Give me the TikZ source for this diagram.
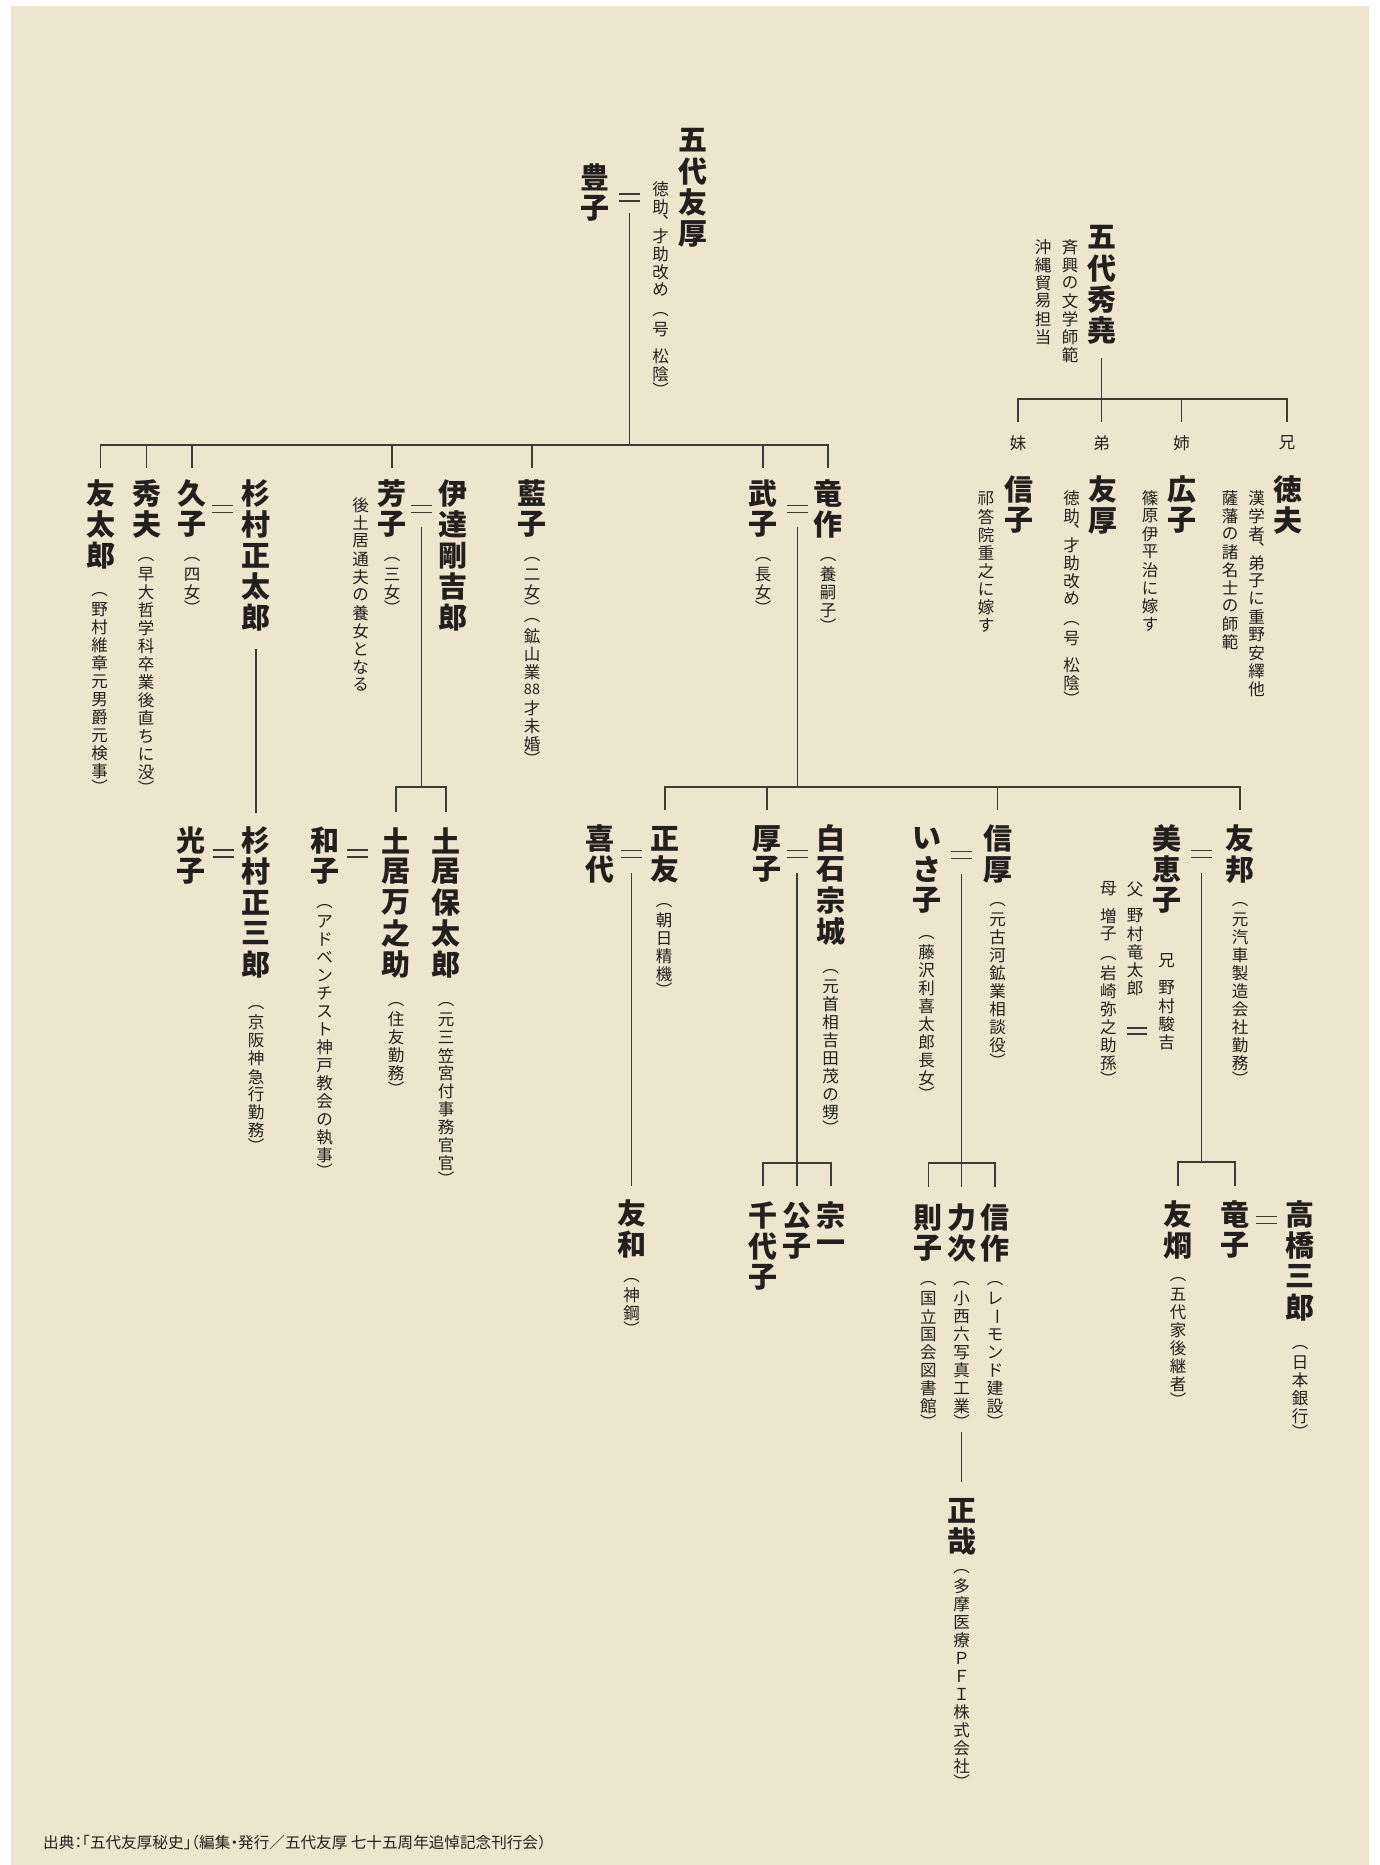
\documentclass[tikz,border=0pt]{standalone}
\usepackage{fontspec}
\usepackage{graphicx}
\usetikzlibrary{calc}
\newfontfamily\cjk{Noto Sans CJK JP}
\newfontfamily\cjkh{Noto Sans CJK JP}[RawFeature={+halt}]
\definecolor{bg}{HTML}{EEE5CE}
\definecolor{ink}{HTML}{231F1C}
\definecolor{rule}{HTML}{3E3A36}
\ExplSyntaxOn
\dim_new:N \l__vt_p_dim
\cs_new_protected:Npn \__vt_cell:nn #1#2
  {
    \vbox_to_ht:nn { #1 \l__vt_p_dim }
      { \vss \hbox_to_wd:nn { \l__vt_p_dim } { \hss #2 \hss } \vss }
  }
\cs_new_protected:Npn \vLP {}
\cs_new_protected:Npn \vRP {}
\cs_new_protected:Npn \vSP {}
\cs_new_protected:Npn \vTC {}
\cs_new_protected:Npn \vCB {}
\NewDocumentCommand \vt { O{18pt} m }
  {
    \vbox:n
      {
        \dim_set:Nn \l__vt_p_dim {#1}
        \offinterlineskip
        \tl_map_inline:nn {#2}
          {
            \str_case:nnF {##1}
              {
                { \vLP } { \__vt_cell:nn {0.7} { ︵ } }
                { \vRP } { \__vt_cell:nn {0.7} { ︶ } }
                { \vSP } { \__vt_cell:nn {0.5} { } }
                { \vTC } { \__vt_cell:nn {0.6} { ︑ } }
                { \vCB } { \__vt_cell:nn {1} { \rotatebox{-90}{ ー } } }
              }
              { \__vt_cell:nn {1} {##1} }
          }
      }
  }
\ExplSyntaxOff
\newcommand\VN[1]{\vt[31pt]{#1}}
\newcommand\VT[1]{\vt[18pt]{#1}}
\tikzset{
  nm/.style={anchor=north, inner sep=0pt, outer sep=0pt, text=ink, font=\cjk\bfseries\fontsize{29pt}{29pt}\selectfont},
  nt/.style={anchor=north, inner sep=0pt, outer sep=0pt, text=ink, font=\cjk\fontsize{16.5pt}{16.5pt}\selectfont},
  ln/.style={draw=rule, line width=1.3pt},
  eqs/.style={inner sep=0pt, outer sep=0pt, minimum width=21pt, minimum height=7pt,
    append after command={(\tikzlastnode.north west) edge[ln] (\tikzlastnode.north east)
      (\tikzlastnode.south west) edge[ln] (\tikzlastnode.south east)}},
}
\begin{document}
\begin{tikzpicture}[x=1pt,y=-1pt]
\useasboundingbox (0,0) rectangle (1379,1865);
\fill[white] (0,0) rectangle (1379,1865);
\fill[bg] (11,6) rectangle (1369,1865);

% ---- Godai Tomoatsu
\node[nm] (godai) at (692.7,125) {\VN{五代友厚}};
\node[nt] (godaiN) at (660.7,180) {\VT{徳助\vTC 才助改め\vSP \vLP 号\vSP 松陰\vRP }};
\node[nm] (toyoko) at (595,162) {\VN{豊子}};
\node[eqs] (eq1) at (629.3,197.5) {};

% ---- row 1
\node[nm] (yutaro) at (100.5,478) {\VN{友太郎}};
\node[nt] (yutaroN) at (99.5,588) {\VT{\vLP 野村維章元男爵元検事\vRP }};
\node[nm] (hideo) at (146.5,478) {\VN{秀夫}};
\node[nt] (hideoN) at (146,553) {\VT{\vLP 早大哲学科卒業後直ちに没\vRP }};
\node[nm] (hisako) at (192,478) {\VN{久子}};
\node[nt] (hisakoN) at (192,553) {\VT{\vLP 四女\vRP }};
\node[eqs] (eq2) at (222,509) {};
\node[nm] (shotaro) at (256,478) {\VN{杉村正太郎}};
\node[nt] (yoshikoN2) at (360.5,496) {\VT{後土居通夫の養女となる}};
\node[nm] (yoshiko) at (392,478) {\VN{芳子}};
\node[nt] (yoshikoN) at (392,553) {\VT{\vLP 三女\vRP }};
\node[eqs] (eq3) at (421.5,509) {};
\node[nm] (date) at (453,478) {\VN{伊達剛吉郎}};
\node[nm] (aiko) at (532,478) {\VN{藍子}};
\node[nt] (aikoN) at (532,553) {\VT{\vLP 二女\vRP \vLP 鉱山業{\fontsize{14.5pt}{14.5pt}\selectfont 88}才未婚\vRP }};
\node[nm] (takeko) at (763,478) {\VN{武子}};
\node[nt] (takekoN) at (763,553) {\VT{\vLP 長女\vRP }};
\node[eqs] (eq4) at (797.7,509) {};
\node[nm] (ryusaku) at (828,478) {\VN{竜作}};
\node[nt] (ryusakuN) at (828,553) {\VT{\vLP 養嗣子\vRP }};

% ---- row 2 left
\node[nm] (mitsuko) at (191,825) {\VN{光子}};
\node[eqs] (eq9) at (223,853.5) {};
\node[nm] (shozaburo) at (256,825) {\VN{杉村正三郎}};
\node[nt] (shozaburoN) at (256,1001) {\VT{\vLP 京阪神急行勤務\vRP }};
\node[nm] (kazuko) at (324.5,825) {\VN{和子}};
\node[nt] (kazukoN) at (324.5,900) {\VT{\vLP アドベンチスト神戸教会の執事\vRP }};
\node[eqs] (eq10) at (357.7,853.5) {};
\node[nm] (doiman) at (396,825) {\VN{土居万之助}};
\node[nt] (doimanN) at (396,998) {\VT{\vLP 住友勤務\vRP }};
\node[nm] (doiyasu) at (446,825) {\VN{土居保太郎}};
\node[nt] (doiyasuN) at (446,998) {\VT{\vLP 元三笠宮付事務官官\vRP }};

% ---- row 2 middle
\node[nm] (kiyo) at (600.3,823) {\VN{喜代}};
\node[eqs] (eq5) at (631.7,854) {};
\node[nm] (masatomo) at (665,823) {\VN{正友}};
\node[nt] (masatomoN) at (664,899) {\VT{\vLP 朝日精機\vRP }};
\node[nm] (tomokazu) at (631.7,1198) {\VN{友和}};
\node[nt] (tomokazuN) at (631.7,1274) {\VT{\vLP 神鋼\vRP }};
\node[nm] (atsuko) at (767,823) {\VN{厚子}};
\node[eqs] (eq6) at (797,854) {};
\node[nm] (shiraishi) at (831,823) {\VN{白石宗城}};
\node[nt] (shiraishiN) at (830.5,965) {\VT{\vLP 元首相吉田茂の甥\vRP }};
\node[nm] (chiyoko) at (763,1200) {\VN{千代子}};
\node[nm] (kimiko) at (797,1200) {\VN{公子}};
\node[nm] (soichi) at (831,1200) {\VN{宗一}};

% ---- row 2 right-middle
\node[nm] (isako) at (926.7,823) {\VN{いさ子}};
\node[nt] (isakoN) at (926.7,931) {\VT{\vLP 藤沢利喜太郎長女\vRP }};
\node[eqs] (eq7) at (961.7,855) {};
\node[nm] (nobuatsu) at (997.7,823) {\VN{信厚}};
\node[nt] (nobuatsuN) at (997.7,898) {\VT{\vLP 元古河鉱業相談役\vRP }};
\node[nm] (noriko) at (928.3,1202) {\VN{則子}};
\node[nt] (norikoN) at (928.3,1277) {\VT{\vLP 国立国会図書館\vRP }};
\node[nm] (rikiji) at (961.7,1202) {\VN{力次}};
\node[nt] (rikijiN) at (961.7,1277) {\VT{\vLP 小西六写真工業\vRP }};
\node[nm] (shinsaku) at (995,1202) {\VN{信作}};
\node[nt] (shinsakuN) at (995,1277) {\VT{\vLP レ\vCB モンド建設\vRP }};
\node[nm] (masaya) at (961.7,1495) {\VN{正哉}};
\node[nt] (masayaN) at (961.7,1565) {\VT{\vLP 多摩医療ＰＦＩ株式会社\vRP }};

% ---- row 2 right
\node[nm] (mieko) at (1166.7,823) {\VN{美恵子}};
\node[eqs] (eq8) at (1201.7,854) {};
\node[nm] (tomokuni) at (1240,823) {\VN{友邦}};
\node[nt] (tomokuniN) at (1240,898) {\VT{\vLP 元汽車製造会社勤務\vRP }};
\node[nt] (ani) at (1166.7,952) {\VT{兄\vSP 野村駿吉}};
\node[nt] (chichi) at (1135,880) {\VT{父\vSP 野村竜太郎}};
\node[eqs, minimum width=20pt, minimum height=6pt] (eq11) at (1137,1031) {};
\node[nt] (haha) at (1108.3,880) {\VT{母\vSP 増子\vSP \vLP 岩崎弥之助孫\vRP }};
\node[nm] (tomoaki) at (1178,1199) {\VN{友烱}};
\node[nt] (tomoakiN) at (1178,1273) {\VT{\vLP 五代家後継者\vRP }};
\node[nm] (tatsuko) at (1235,1199) {\VN{竜子}};
\node[eqs] (eq12) at (1266,1220) {};
\node[nm] (takahashi) at (1300,1199) {\VN{高橋三郎}};
\node[nt] (takahashiN) at (1300,1341) {\VT{\vLP 日本銀行\vRP }};

% ---- Godai Hidetaka
\node[nm] (hidetaka) at (1101.7,222) {\VN{五代秀堯}};
\node[nt] (hidetakaN1) at (1070,238) {\VT{斉興の文学師範}};
\node[nt] (hidetakaN2) at (1043,238) {\VT{沖縄貿易担当}};
\node[nt] (imo) at (1018,434) {\VT{妹}};
\node[nt] (otouto) at (1101.7,434) {\VT{弟}};
\node[nt] (ane) at (1181.7,434) {\VT{姉}};
\node[nt] (anik) at (1287,434) {\VT{兄}};
\node[nm] (nobuko) at (1019,474) {\VN{信子}};
\node[nt] (nobukoN) at (986,490) {\VT{祁答院重之に嫁す}};
\node[nm] (tomoatsu) at (1102.7,474) {\VN{友厚}};
\node[nt] (tomoatsuN) at (1071.7,489) {\VT{徳助\vTC 才助改め\vSP \vLP 号\vSP 松陰\vRP }};
\node[nm] (hiroko) at (1181.7,474) {\VN{広子}};
\node[nt] (hirokoN) at (1150,489) {\VT{篠原伊平治に嫁す}};
\node[nm] (tokuo) at (1288.3,474) {\VN{徳夫}};
\node[nt] (tokuoN1) at (1256.7,489) {\VT{漢学者\vTC 弟子に重野安繹他}};
\node[nt] (tokuoN2) at (1230,489) {\VT{薩藩の諸名士の師範}};

% ---- footer
\node[anchor=west, inner sep=0pt, text=ink, font=\cjkh\fontsize{15.6pt}{15.6pt}\selectfont] (src) at (43,1843)
  {出典：「五代友厚秘史」（編集・発行／五代友厚 七十五周年追悼記念刊行会）};

% ---- connectors
\coordinate (b1) at (629.3,445);
\draw[ln] ($(eq1.south)+(0,-12pt)$) -- (b1);
\draw[ln] ($(yutaro.north)+(0,10pt)$) |- (b1) -| ($(ryusaku.north)+(0,10pt)$);
\foreach \k in {hideo,hisako,yoshiko,aiko,takeko}{\draw[ln] ($(\k.north)+(0,10pt)$) -- (\k.north |- b1);}

\draw[ln] ($(shotaro.south)+(0,-16pt)$) -- ($(shozaburo.north)+(0,12pt)$);

\coordinate (d1) at (421.5,787);
\draw[ln] ($(eq3.south)+(0,-14pt)$) -- (d1);
\draw[ln] ($(doiman.north)+(0,13pt)$) |- (d1) -| ($(doiyasu.north)+(0,13pt)$);

\coordinate (r1) at (797.7,787);
\draw[ln] ($(eq4.south)+(0,-14pt)$) -- (r1);
\draw[ln] ($(masatomo.north)+(0,13pt)$) |- (r1) -| ($(tomokuni.north)+(0,13pt)$);
\foreach \k in {atsuko,nobuatsu}{\draw[ln] ($(\k.north)+(0,13pt)$) -- (\k.north |- r1);}

\draw[ln] ($(eq5.south)+(0,-15pt)$) -- ($(tomokazu.north)+(0,12pt)$);

\coordinate (s1) at (797,1163);
\draw[ln] ($(eq6.south)+(0,-15pt)$) -- ($(kimiko.north)+(0,14pt)$);
\draw[ln] ($(chiyoko.north)+(0,14pt)$) |- (s1) -| ($(soichi.north)+(0,14pt)$);

\coordinate (s2) at (961.7,1163);
\draw[ln] ($(eq7.south)+(0,-15pt)$) -- ($(rikiji.north)+(0,15pt)$);
\draw[ln] ($(noriko.north)+(0,15pt)$) |- (s2) -| ($(shinsaku.north)+(0,15pt)$);
\draw[ln] ($(rikijiN.south)+(0,-4pt)$) -- ($(masaya.north)+(0,13pt)$);

\coordinate (s3) at (1201.7,1162);
\draw[ln] ($(eq8.south)+(0,-15pt)$) -- (s3);
\draw[ln] ($(tomoaki.north)+(0,13pt)$) |- (s3) -| ($(tatsuko.north)+(0,13pt)$);

\coordinate (s4) at (1101.7,399);
\draw[ln] ($(hidetaka.south)+(0,-12pt)$) -- (s4);
\draw[ln] ($(imo.north)+(0,12pt)$) |- (s4) -| ($(anik.north)+(0,12pt)$);
\foreach \k in {otouto,ane}{\draw[ln] ($(\k.north)+(0,12pt)$) -- (\k.north |- s4);}
\end{tikzpicture}
\end{document}
